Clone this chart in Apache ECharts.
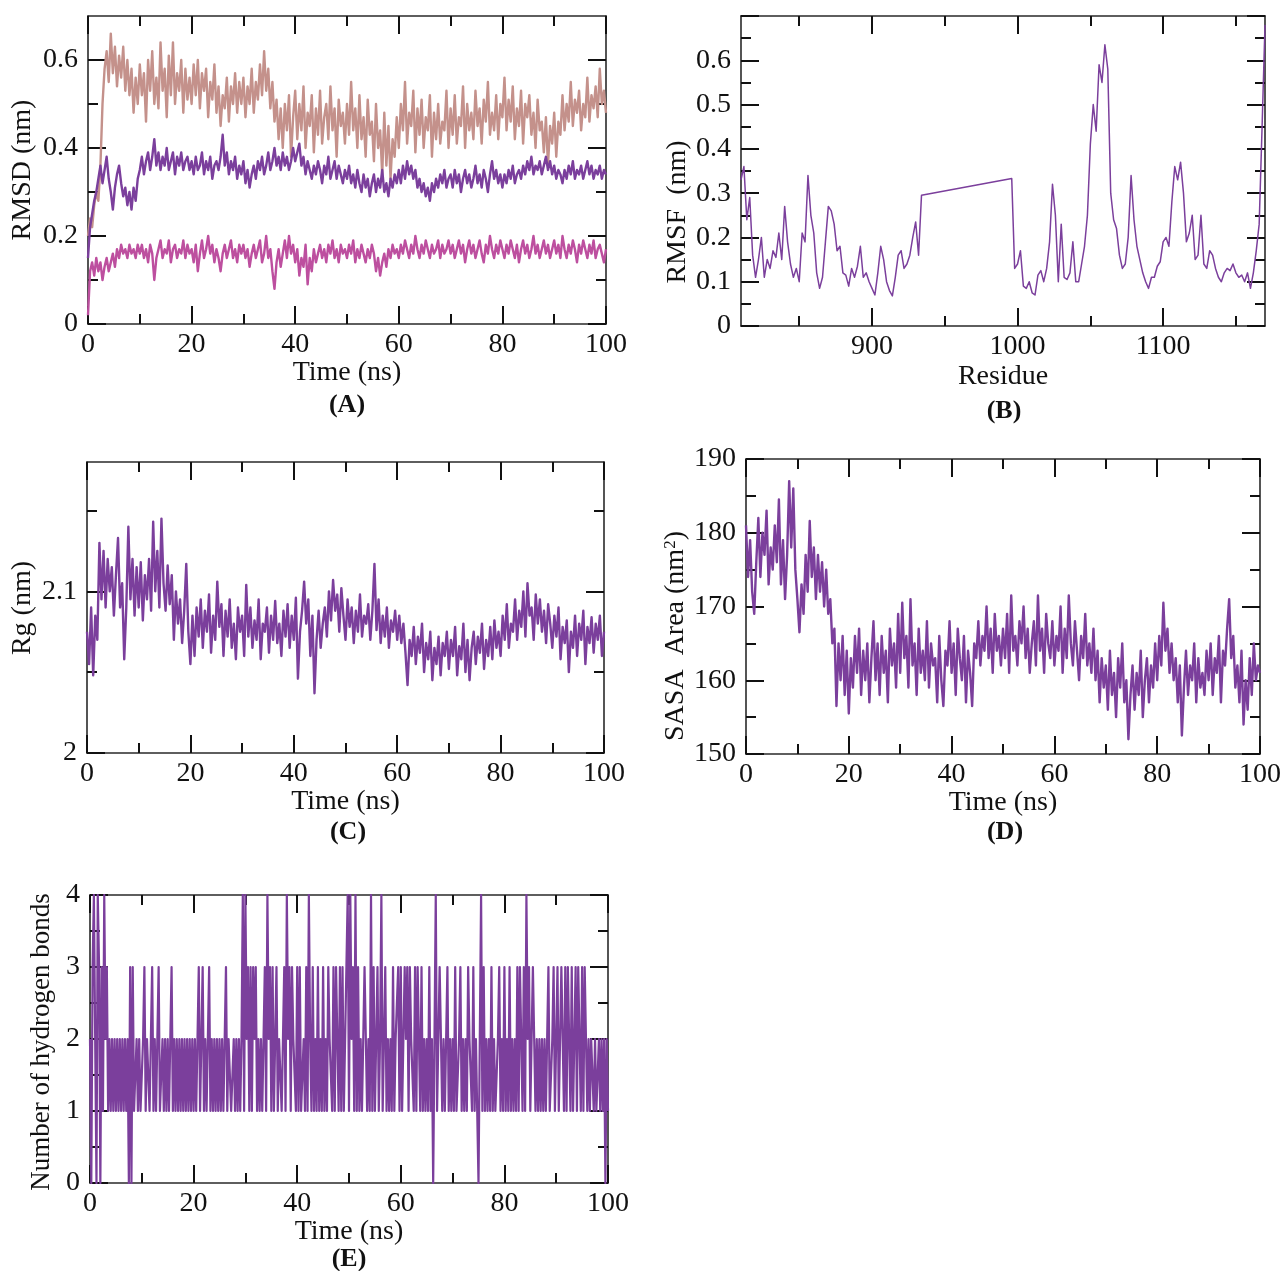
<!DOCTYPE html>
<html lang="en">
<head>
<meta charset="utf-8">
<title>MD simulation analysis</title>
<script src="https://cdn.jsdelivr.net/npm/echarts@6.0.0/dist/echarts.min.js"></script>
<style>
  html, body { margin: 0; background: #fff; }
  #main { width: 1286px; height: 1271px; }
</style>
</head>
<body>
<div id="main"></div>
<script>
// ---- data ----
// every time series is sampled evenly over the 100 ns run
const simTime = 100;

// (A) RMSD (nm)
const rmsdLigand = [
  0.20,0.24,0.22,0.27,0.30,0.28,0.36,0.50,0.58,0.62,0.55,0.66,0.57,0.63,0.54,0.61,0.56,0.63,0.53,0.60,0.52,0.58,0.48,0.56,0.50,
  0.59,0.52,0.57,0.46,0.60,0.53,0.62,0.50,0.56,0.49,0.64,0.53,0.58,0.47,0.61,0.52,0.64,0.50,0.57,0.53,0.60,0.48,0.58,0.51,0.56,
  0.50,0.59,0.52,0.60,0.49,0.57,0.53,0.58,0.47,0.55,0.51,0.59,0.48,0.54,0.45,0.52,0.49,0.56,0.46,0.54,0.50,0.57,0.48,0.55,0.50,
  0.56,0.47,0.54,0.50,0.58,0.48,0.55,0.51,0.59,0.52,0.62,0.53,0.58,0.49,0.55,0.46,0.51,0.42,0.49,0.40,0.50,0.44,0.52,0.38,0.47,
  0.53,0.42,0.50,0.44,0.54,0.40,0.48,0.45,0.52,0.39,0.49,0.43,0.53,0.41,0.47,0.50,0.42,0.54,0.44,0.49,0.38,0.51,0.45,0.48,0.41,
  0.50,0.43,0.55,0.44,0.49,0.40,0.52,0.42,0.47,0.38,0.51,0.43,0.46,0.37,0.50,0.40,0.44,0.34,0.48,0.36,0.45,0.33,0.42,0.38,0.47,
  0.40,0.50,0.44,0.55,0.41,0.48,0.45,0.53,0.39,0.49,0.43,0.51,0.40,0.47,0.44,0.52,0.38,0.48,0.42,0.50,0.41,0.46,0.44,0.53,0.40,
  0.49,0.43,0.52,0.41,0.47,0.45,0.54,0.40,0.50,0.44,0.48,0.42,0.53,0.45,0.49,0.41,0.51,0.46,0.55,0.43,0.48,0.44,0.52,0.42,0.50,
  0.47,0.56,0.44,0.51,0.46,0.54,0.42,0.49,0.45,0.53,0.41,0.50,0.47,0.52,0.43,0.48,0.40,0.51,0.44,0.46,0.39,0.47,0.36,0.45,0.41,
  0.48,0.38,0.46,0.43,0.52,0.44,0.50,0.46,0.55,0.45,0.51,0.48,0.53,0.44,0.50,0.47,0.56,0.46,0.52,0.49,0.54,0.47,0.58,0.50,0.53,0.48
];
const rmsdComplex = [
  0.15,0.22,0.25,0.28,0.30,0.33,0.36,0.32,0.35,0.38,0.33,0.30,0.26,0.31,0.34,0.36,0.32,0.29,0.31,0.27,0.30,0.26,0.31,0.28,0.33,
  0.35,0.38,0.34,0.37,0.39,0.35,0.38,0.42,0.36,0.39,0.35,0.38,0.36,0.40,0.35,0.37,0.39,0.34,0.38,0.36,0.39,0.35,0.37,0.38,0.35,
  0.37,0.34,0.38,0.35,0.36,0.39,0.34,0.37,0.35,0.38,0.33,0.36,0.37,0.35,0.38,0.43,0.36,0.39,0.34,0.37,0.35,0.38,0.33,0.36,0.34,
  0.37,0.32,0.35,0.31,0.34,0.36,0.33,0.37,0.35,0.38,0.34,0.36,0.39,0.35,0.37,0.40,0.36,0.38,0.35,0.39,0.36,0.38,0.35,0.37,0.40,
  0.37,0.39,0.41,0.36,0.38,0.34,0.37,0.35,0.33,0.36,0.34,0.37,0.35,0.32,0.36,0.34,0.38,0.33,0.35,0.37,0.33,0.36,0.34,0.32,0.35,
  0.33,0.36,0.32,0.34,0.31,0.35,0.32,0.30,0.34,0.31,0.33,0.29,0.32,0.34,0.30,0.33,0.31,0.35,0.30,0.32,0.29,0.33,0.31,0.34,0.32,
  0.35,0.32,0.36,0.33,0.37,0.34,0.36,0.33,0.35,0.31,0.33,0.30,0.32,0.29,0.31,0.28,0.32,0.30,0.33,0.31,0.34,0.32,0.35,0.31,0.33,
  0.34,0.31,0.35,0.32,0.34,0.30,0.33,0.35,0.32,0.34,0.31,0.33,0.36,0.32,0.34,0.31,0.35,0.33,0.30,0.34,0.37,0.33,0.35,0.32,0.34,
  0.31,0.34,0.32,0.35,0.33,0.36,0.32,0.34,0.35,0.33,0.36,0.34,0.37,0.35,0.38,0.34,0.36,0.35,0.37,0.34,0.36,0.38,0.35,0.37,0.34,
  0.36,0.33,0.35,0.34,0.32,0.35,0.33,0.36,0.34,0.37,0.33,0.35,0.34,0.36,0.33,0.35,0.37,0.34,0.36,0.33,0.35,0.34,0.36,0.33,0.35,0.34
];
const rmsdBackbone = [
  0.02,0.12,0.14,0.11,0.15,0.12,0.14,0.10,0.13,0.15,0.12,0.14,0.16,0.13,0.17,0.15,0.18,0.16,0.17,0.15,0.18,0.16,0.17,0.15,0.18,
  0.16,0.18,0.15,0.17,0.14,0.18,0.16,0.10,0.15,0.17,0.19,0.15,0.17,0.16,0.19,0.14,0.17,0.18,0.15,0.17,0.16,0.19,0.15,0.18,0.16,
  0.17,0.14,0.18,0.12,0.16,0.19,0.15,0.17,0.20,0.16,0.18,0.14,0.17,0.15,0.12,0.16,0.18,0.15,0.17,0.19,0.15,0.17,0.14,0.18,0.16,
  0.18,0.15,0.17,0.13,0.16,0.18,0.15,0.17,0.19,0.14,0.16,0.20,0.15,0.17,0.12,0.08,0.14,0.17,0.13,0.16,0.19,0.15,0.20,0.16,0.18,
  0.14,0.17,0.11,0.15,0.13,0.18,0.09,0.15,0.12,0.17,0.14,0.16,0.18,0.15,0.17,0.14,0.18,0.16,0.19,0.15,0.17,0.14,0.18,0.16,0.17,
  0.15,0.18,0.16,0.19,0.14,0.17,0.15,0.18,0.16,0.14,0.17,0.15,0.18,0.16,0.12,0.15,0.11,0.14,0.16,0.13,0.17,0.15,0.18,0.16,0.17,
  0.15,0.18,0.16,0.19,0.17,0.15,0.18,0.16,0.20,0.17,0.15,0.18,0.16,0.19,0.17,0.15,0.18,0.16,0.17,0.19,0.15,0.18,0.16,0.17,0.19,
  0.16,0.18,0.15,0.17,0.19,0.16,0.18,0.14,0.17,0.19,0.16,0.18,0.15,0.17,0.19,0.16,0.14,0.18,0.16,0.20,0.17,0.15,0.18,0.16,0.19,
  0.17,0.15,0.18,0.16,0.19,0.17,0.15,0.18,0.14,0.17,0.19,0.16,0.18,0.15,0.17,0.20,0.16,0.18,0.15,0.17,0.19,0.16,0.18,0.15,0.17,
  0.19,0.16,0.18,0.15,0.20,0.17,0.15,0.18,0.16,0.19,0.17,0.14,0.18,0.16,0.19,0.17,0.15,0.18,0.16,0.19,0.15,0.17,0.18,0.16,0.14,0.17
];

// (B) RMSF (nm), every 2nd residue, two stretches with missing residues between
const residueStep = 2;
const rmsfStart1 = 810;
const rmsf1 = [
  0.33,0.36,0.24,0.29,0.16,0.11,0.15,0.20,0.11,0.15,
  0.13,0.17,0.155,0.21,0.15,0.27,0.19,0.14,0.11,0.13,
  0.10,0.21,0.19,0.34,0.25,0.21,0.12,0.085,0.11,0.19,
  0.27,0.26,0.23,0.17,0.18,0.12,0.115,0.09,0.13,0.11,
  0.135,0.18,0.11,0.12,0.10,0.085,0.07,0.12,0.18,0.15,
  0.10,0.08,0.068,0.11,0.16,0.17,0.13,0.14,0.16,0.20,
  0.235,0.16,0.295
];
const rmsfStart2 = 996;
const rmsf2 = [
  0.333,0.13,0.14,0.17,0.09,0.085,0.10,0.075,0.07,0.115,
  0.125,0.10,0.13,0.19,0.32,0.25,0.10,0.23,0.11,0.105,
  0.12,0.19,0.10,0.10,0.14,0.18,0.25,0.41,0.50,0.44,
  0.59,0.55,0.635,0.58,0.30,0.24,0.22,0.16,0.13,0.14,
  0.20,0.34,0.24,0.18,0.15,0.12,0.10,0.085,0.11,0.11,
  0.135,0.145,0.19,0.20,0.18,0.28,0.36,0.33,0.37,0.30,
  0.19,0.21,0.25,0.15,0.16,0.25,0.14,0.13,0.17,0.16,
  0.13,0.11,0.10,0.12,0.13,0.125,0.14,0.12,0.11,0.115,
  0.10,0.12,0.085,0.12,0.17,0.23,0.45,0.68
];

// (C) radius of gyration (nm)
const rg = [
  2.075,2.055,2.09,2.048,2.085,2.07,2.13,2.095,2.125,2.09,2.12,2.1,2.115,2.085,2.11,2.133,2.09,2.105,2.058,2.09,2.14,2.095,2.12,2.085,2.115,
  2.09,2.118,2.082,2.11,2.095,2.12,2.088,2.143,2.1,2.125,2.09,2.145,2.105,2.088,2.116,2.092,2.11,2.07,2.1,2.08,2.095,2.068,2.088,2.117,2.075,
  2.055,2.085,2.06,2.09,2.072,2.095,2.065,2.088,2.075,2.098,2.062,2.085,2.07,2.106,2.078,2.092,2.06,2.088,2.072,2.095,2.065,2.08,2.058,2.09,2.075,
  2.085,2.06,2.104,2.072,2.09,2.065,2.082,2.07,2.095,2.058,2.08,2.075,2.09,2.062,2.085,2.07,2.094,2.068,2.08,2.06,2.088,2.072,2.092,2.065,2.085,
  2.07,2.096,2.046,2.075,2.088,2.106,2.08,2.095,2.06,2.085,2.037,2.07,2.088,2.065,2.08,2.09,2.072,2.1,2.082,2.107,2.088,2.098,2.075,2.102,2.085,
  2.07,2.095,2.078,2.09,2.068,2.088,2.075,2.098,2.072,2.085,2.08,2.092,2.07,2.088,2.117,2.076,2.095,2.068,2.085,2.072,2.09,2.065,2.082,2.075,2.088,
  2.07,2.085,2.068,2.08,2.062,2.042,2.07,2.06,2.078,2.055,2.072,2.062,2.08,2.05,2.068,2.058,2.075,2.045,2.065,2.055,2.072,2.048,2.068,2.06,2.075,
  2.052,2.07,2.06,2.078,2.048,2.066,2.058,2.08,2.05,2.07,2.045,2.065,2.075,2.055,2.072,2.062,2.08,2.052,2.07,2.06,2.078,2.058,2.082,2.065,2.075,
  2.06,2.085,2.07,2.092,2.065,2.08,2.075,2.095,2.07,2.088,2.078,2.1,2.072,2.105,2.085,2.09,2.07,2.098,2.08,2.095,2.075,2.088,2.068,2.092,2.08,
  2.065,2.085,2.072,2.09,2.058,2.078,2.068,2.082,2.05,2.075,2.065,2.085,2.06,2.08,2.07,2.088,2.055,2.078,2.068,2.084,2.062,2.08,2.07,2.085,2.06,2.075
];

// (D) SASA (nm^2)
const sasa = [
  181,174,179,172,169,176,182,174,180,177,183,173,178,175,181,176,184.5,173,179,171,177,187,178,186,175,
  171,166.5,173,169,177,172,181.6,174,178,171,177,172,176,170,175,169,171,165,167,156.5,165,160,166,158,164,
  155.5,163,159,166,161,167,158,164,160,165,157,163,168,160,165,158,166,161,164,157,167,162,165,159,169,
  161,170.5,163,166,159,171,162,165,158,167,161,164,160,168,159,165,162,163,157,166,160,156.5,164,162,168,
  161,165,158,167,163,160,166,157,164,161,156.5,165,163,168,162,166,164,170,163,167,161,169,164,166,162,
  167,163,169,161,171.5,164,166,162,168,165,170,163,167,161,165,168,162,171.5,164,167,161,169,165,163,168,
  162,166,164,170,161,167,163,171.5,165,162,168,164,160,166,163,169,162,165,161,167,160,164,157,163,159,
  162,156,164,158,161,155,163,159,165,157,160,152,158,162,156,161,158,164,155,160,163,157,162,159,165,
  160,166,162,170.5,164,167,161,165,160,163,157,162,152.5,159,164,158,162,160,165,157,163,159,161,158,164,
  160,165,158,163,161,166,157,164,162,167,171,163,166,159,162,157,164,154,160,156,163,158,165,160,162,161
];

// (E) number of hydrogen bonds
const hbonds = [
  2,0,3,4,2,0,4,3,0,3,1,4,2,3,1,2,1,2,1,2,1,2,1,2,1,
  2,1,2,1,2,0,3,0,3,1,1,2,1,2,1,1,2,3,1,2,2,1,2,3,1,
  2,1,2,3,1,1,2,1,2,1,2,1,2,3,1,2,1,2,1,2,1,2,1,2,1,
  2,1,2,1,2,1,2,1,2,3,1,2,3,1,2,1,2,3,1,2,1,2,1,2,1,
  2,1,2,1,2,3,1,2,2,1,1,2,1,2,1,2,1,2,4,1,4,2,3,1,3,
  1,3,2,3,1,2,1,2,1,2,3,1,4,2,3,1,3,1,2,3,1,2,2,1,2,
  3,1,4,2,3,1,3,2,2,1,3,1,3,1,1,2,1,3,1,4,2,1,3,1,2,
  1,3,1,2,1,3,1,2,1,3,2,2,1,3,1,3,2,1,3,1,3,1,2,3,4,
  1,4,2,3,1,4,1,3,1,2,1,2,3,2,1,2,1,4,1,3,1,2,3,1,2,
  4,1,2,3,1,2,1,2,1,3,1,2,2,3,1,3,1,1,3,2,3,1,3,2,2,
  1,3,1,3,2,1,3,1,2,1,2,1,3,1,2,0,2,4,1,1,3,2,1,2,1,
  2,3,1,2,1,2,1,3,1,1,2,3,1,2,1,2,1,3,2,2,1,3,1,2,1,
  0,2,4,1,3,1,2,1,2,1,3,1,2,1,1,2,3,1,2,1,3,1,2,1,3,
  1,2,1,2,1,3,1,3,2,1,3,1,4,2,3,1,1,3,2,1,2,1,2,1,2,
  1,2,1,2,3,1,1,2,3,1,2,3,1,1,3,2,1,3,1,3,2,1,3,1,2,
  3,1,3,2,1,3,1,3,2,1,2,1,2,2,1,2,1,1,2,1,2,1,2,0,2,
  1
];

// tick values
const timeTicks = [0, 20, 40, 60, 80, 100];
const timeMinor = [10, 30, 50, 70, 90];
const rmsdTicks = [0, 0.2, 0.4, 0.6];
const rmsdMinor = [0.1, 0.3, 0.5];
const residueTicks = [900, 1000, 1100];
const residueMinor = [850, 950, 1050, 1150];
const rmsfTicks = [0, 0.1, 0.2, 0.3, 0.4, 0.5, 0.6, 0.7];
const rmsfLabels = [0, 0.1, 0.2, 0.3, 0.4, 0.5, 0.6];
const rmsfMinor = [0.05, 0.15, 0.25, 0.35, 0.45, 0.55, 0.65];
const rgTicks = [2, 2.1];
const rgMinor = [2.05, 2.15];
const sasaTicks = [150, 160, 170, 180, 190];
const sasaMinor = [155, 165, 175, 185];
const hbTicks = [0, 1, 2, 3, 4];
const hbMinor = [0.5, 1.5, 2.5, 3.5];

// ---- styling ----
const serif = '"Liberation Serif", "Times New Roman", serif';
const ink = '#111';
const purple = '#7b3f9c';
const fontSize = 28;

const timeAxis = { min: 0, max: simTime, major: timeTicks, labels: timeTicks, minor: timeMinor, name: 'Time (ns)', nameGap: 35 };

const panels = [
  { box: { left: 88, top: 16, width: 518, height: 308 }, x: timeAxis,
    y: { min: 0, max: 0.7, major: rmsdTicks, labels: rmsdTicks, minor: rmsdMinor } },
  { box: { left: 741, top: 16, width: 524, height: 310 },
    x: { min: 810, max: 1170, major: residueTicks, labels: residueTicks, minor: residueMinor, name: 'Residue', nameGap: 37 },
    y: { min: 0, max: 0.7, major: rmsfTicks, labels: rmsfLabels, minor: rmsfMinor } },
  { box: { left: 87, top: 462, width: 517, height: 291 }, x: timeAxis,
    y: { min: 2, max: 2.18, major: rgTicks, labels: rgTicks, minor: rgMinor } },
  { box: { left: 746, top: 459, width: 514, height: 295 }, x: timeAxis,
    y: { min: 150, max: 190, major: sasaTicks, labels: sasaTicks, minor: sasaMinor } },
  { box: { left: 90, top: 895, width: 518, height: 288 }, x: timeAxis,
    y: { min: 0, max: 4, major: hbTicks, labels: hbTicks, minor: hbMinor } }
];

const yNames = [
  { text: 'RMSD (nm)', x: 23, y: 170 },
  { text: 'RMSF  (nm)', x: 678, y: 212 },
  { text: 'Rg (nm)', x: 23, y: 608 },
  { text: 'SASA  Area (nm{sup|2})', x: 676, y: 636 },
  { text: 'Number of hydrogen bonds', x: 42, y: 1042, size: 27 }
];
const captions = [
  { text: '(A)', x: 347, y: 405 },
  { text: '(B)', x: 1004, y: 411 },
  { text: '(C)', x: 348, y: 832 },
  { text: '(D)', x: 1005, y: 832 },
  { text: '(E)', x: 349, y: 1259 }
];

// four axes per direction: major and minor ticks on both sides of the box
function buildAxes(dim, gi, s) {
  const sides = dim === 'x' ? ['bottom', 'top'] : ['left', 'right'];
  const out = [];
  sides.forEach((side, si) => {
    [s.major, s.minor].forEach((ticks, ti) => {
      const primary = si === 0 && ti === 0;
      out.push({
        type: 'value', gridIndex: gi, position: side,
        min: s.min, max: s.max,
        splitLine: { show: false },
        axisLine: { show: ti === 0, onZero: false, lineStyle: { color: '#2a2a2a', width: 1.6 } },
        axisTick: { show: true, inside: true, length: ti === 0 ? 18 : 10, customValues: ticks,
          lineStyle: { color: ink, width: 2 } },
        axisLabel: primary
          ? { show: true, customValues: s.labels, margin: dim === 'x' ? 7 : 10,
              formatter: v => String(v),
              fontFamily: serif, fontSize: fontSize, color: ink }
          : { show: false },
        name: primary && s.name ? s.name : '',
        nameLocation: 'middle', nameGap: s.nameGap || 36, nameMoveOverlap: false,
        nameTextStyle: { fontFamily: serif, fontSize: fontSize, color: ink }
      });
    });
  });
  return out;
}

const timePairs = values => values.map((v, i) => [i * simTime / (values.length - 1), v]);
const residuePairs = (start, values) => values.map((v, i) => [start + i * residueStep, v]);

function line(gi, data, color, width) {
  return {
    type: 'line', xAxisIndex: gi * 4, yAxisIndex: gi * 4, data: data,
    symbol: 'none', showSymbol: false, silent: true,
    lineStyle: { color: color, width: width, join: 'round' }
  };
}

let grids = [], xAxes = [], yAxes = [];
panels.forEach((p, gi) => {
  grids.push(Object.assign({ containLabel: false, outerBoundsMode: 'none' }, p.box));
  xAxes = xAxes.concat(buildAxes('x', gi, p.x));
  yAxes = yAxes.concat(buildAxes('y', gi, p.y));
});

const graphic = [];
yNames.forEach(n => {
  graphic.push({
    type: 'text', x: n.x, y: n.y, rotation: Math.PI / 2, silent: true,
    style: {
      text: n.text, fontFamily: serif, fontSize: n.size || fontSize, fill: ink,
      align: 'center', verticalAlign: 'middle',
      rich: { sup: { fontFamily: serif, fontSize: 17, fill: ink, verticalAlign: 'top' } }
    }
  });
});
captions.forEach(c => {
  graphic.push({
    type: 'text', x: c.x, y: c.y, silent: true,
    style: { text: c.text, fontFamily: serif, fontSize: 26, fontWeight: 'bold', fill: ink,
      align: 'center', verticalAlign: 'middle' }
  });
});

var myChart = echarts.init(document.getElementById('main'));
myChart.setOption({
  animation: false,
  backgroundColor: '#fff',
  textStyle: { fontFamily: serif },
  grid: grids,
  xAxis: xAxes,
  yAxis: yAxes,
  graphic: graphic,
  series: [
    line(0, timePairs(rmsdLigand), '#c4918b', 2.4),
    line(0, timePairs(rmsdComplex), purple, 2.4),
    line(0, timePairs(rmsdBackbone), '#bd4f9f', 2.4),
    line(1, residuePairs(rmsfStart1, rmsf1).concat(residuePairs(rmsfStart2, rmsf2)), purple, 1.5),
    line(2, timePairs(rg), purple, 2.4),
    line(3, timePairs(sasa), purple, 2.4),
    line(4, timePairs(hbonds), purple, 2.2)
  ]
});
</script>
</body>
</html>
